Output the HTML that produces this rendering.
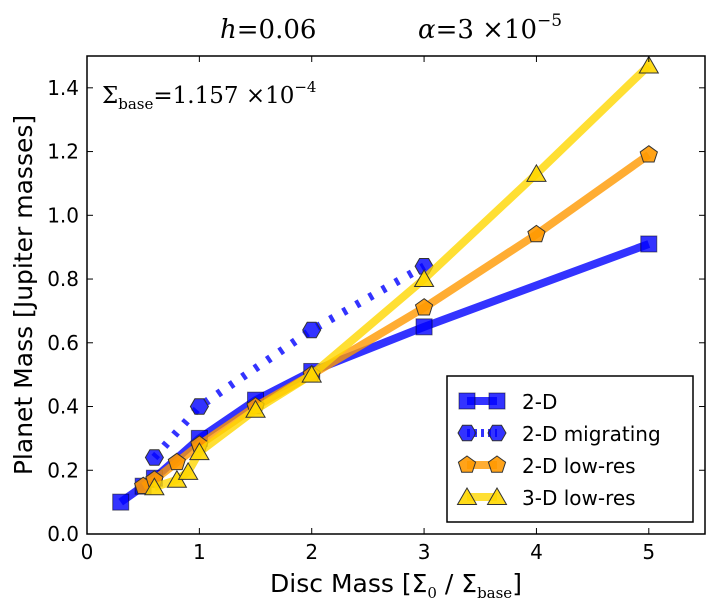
<!DOCTYPE html>
<html><head><meta charset="utf-8"><style>
body{margin:0;background:#fff;}
svg{display:block;font-family:"DejaVu Sans","Liberation Sans",sans-serif;}
</style></head><body>
<svg id="chart" width="715" height="612" xmlns="http://www.w3.org/2000/svg">
<rect x="87" y="56" width="618" height="478" fill="#fff" stroke="#000" stroke-width="1.5"/>
<g id="marks"></g>
<g id="axes"></g>
<text x="220" y="38" font-family="DejaVu Serif,Liberation Serif,serif" font-style="italic" font-size="26">h<tspan font-style="normal">=0.06</tspan></text>
<text x="418" y="38" font-family="DejaVu Serif,Liberation Serif,serif" font-style="italic" font-size="26">α<tspan font-style="normal">=3 ×10</tspan><tspan font-style="normal" font-size="17" dy="-12">−5</tspan></text>
<text x="102" y="103" font-family="DejaVu Serif,Liberation Serif,serif" font-size="23">Σ<tspan font-size="15" dy="6">base</tspan><tspan dy="-6">=1.157 ×10</tspan><tspan font-size="15" dy="-11">−4</tspan></text>
<text x="396" y="592" text-anchor="middle" font-size="25">Disc Mass [Σ<tspan font-family="DejaVu Serif,serif" font-size="15" dy="6">0</tspan><tspan dy="-6"> / Σ</tspan><tspan font-family="DejaVu Serif,serif" font-size="15" dy="6">base</tspan><tspan dy="-6">]</tspan></text>
<text transform="translate(32,295) rotate(-90)" text-anchor="middle" font-size="25">Planet Mass [Jupiter masses]</text>
<g>
<rect x="447" y="376" width="246" height="146" fill="#fff" stroke="#000" stroke-width="1.5"/>
<g id="legend"></g>
</g>
</svg>
<script>
const xTicks=[0,1,2,3,4,5];
const yTicks=[0.0,0.2,0.4,0.6,0.8,1.0,1.2,1.4];
const x2d=[0.3,0.5,0.6,1,1.5,2,3,5];
const y2d=[0.10,0.15,0.175,0.30,0.42,0.51,0.65,0.91];
const xMig=[0.6,1,2,3];
const yMig=[0.24,0.40,0.64,0.84];
const xLow=[0.5,0.6,0.8,1,1.5,2,3,4,5];
const yLow=[0.15,0.17,0.225,0.28,0.40,0.50,0.71,0.94,1.19];
const x3d=[0.6,0.8,0.9,1,1.5,2,3,4,5];
const y3d=[0.147,0.17,0.195,0.257,0.39,0.50,0.80,1.13,1.47];
const seriesNames=["2-D","2-D migrating","2-D low-res","3-D low-res"];
const NS="http://www.w3.org/2000/svg";
const X=v=>87+v*112.36, Y=v=>534-v*318.7;
function mk(tag,a,p){const e=document.createElementNS(NS,tag);for(const k in a)e.setAttribute(k,a[k]);p.appendChild(e);return e;}
const axes=document.getElementById('axes'), marks=document.getElementById('marks'), leg=document.getElementById('legend');
xTicks.forEach(t=>{
 const l=mk('line',{x1:X(t),x2:X(t),y1:534,y2:528,stroke:'#000'},axes);
 
 const l2=mk('line',{x1:X(t),x2:X(t),y1:56,y2:62,stroke:'#000'},axes);
 
 const tx=mk('text',{x:X(t),y:559,'text-anchor':'middle','font-size':20},axes);tx.textContent=t;
 
});
yTicks.forEach(t=>{
 const l=mk('line',{x1:87,x2:93,y1:Y(t),y2:Y(t),stroke:'#000'},axes);
 
 const l2=mk('line',{x1:705,x2:699,y1:Y(t),y2:Y(t),stroke:'#000'},axes);
 
 const tx=mk('text',{x:79,y:Y(t)+7,'text-anchor':'end','font-size':20},axes);tx.textContent=t.toFixed(1);
 
});
function marker(type,cx,cy,p,fill){
 let e;
 if(type==='sq')e=mk('rect',{x:cx-8,y:cy-8,width:16,height:16,fill:fill,'fill-opacity':0.8,stroke:'#000','stroke-opacity':0.5},p);
 else{let n=type==='hex'?6:type==='pent'?5:3,r=type==='tri'?11:9,off=type==='hex'?0:-Math.PI/2,pts=[];
  for(let i=0;i<n;i++){const a=off+i*2*Math.PI/n;pts.push((cx+r*Math.cos(a)).toFixed(1)+','+(cy+r*Math.sin(a)+(type==='tri'?2:0)).toFixed(1));}
  e=mk('polygon',{points:pts.join(' '),fill:fill,'fill-opacity':type==='hex'?0.8:0.9,stroke:'#333','stroke-width':1},p);}
 return e;
}
const S=[
 {xs:x2d,ys:y2d,c:'#0000ff',m:'sq',mf:'#0000ff',dash:null,name:'series-2d'},
 {xs:xMig,ys:yMig,c:'#0000ff',m:'hex',mf:'#0000ff',dash:'4,11',name:'series-2d-migrating'},
 {xs:xLow,ys:yLow,c:'#ff9900',m:'pent',mf:'#ff9900',dash:null,name:'series-2d-low-res'},
 {xs:x3d,ys:y3d,c:'#ffd700',m:'tri',mf:'#ffd700',dash:null,name:'series-3d-low-res'}];
S.forEach((s,i)=>{
 const g=mk('g',{},marks);
 const a={points:s.xs.map((v,j)=>X(v)+','+Y(s.ys[j])).join(' '),fill:'none',stroke:s.c,'stroke-width':8,'stroke-opacity':0.8,'stroke-linejoin':'round'};
 if(s.dash)a['stroke-dasharray']=s.dash;
 const pl=mk('polyline',a,g);
 s.xs.forEach((v,j)=>{const e=marker(s.m,X(v),Y(s.ys[j]),g,s.mf);
  });
 const ly=401+i*32;
 const lg=mk('g',{},leg);
 const la={x1:467,x2:497,y1:ly,y2:ly,stroke:s.c,'stroke-width':8,'stroke-opacity':0.8};if(s.dash)la['stroke-dasharray']='3,4';
 mk('line',la,lg);marker(s.m,467,ly,lg,s.mf);marker(s.m,497,ly,lg,s.mf);
 const t=mk('text',{x:522,y:ly+8,'font-size':20},lg);t.textContent=seriesNames[i];
});
</script>
</body></html>
